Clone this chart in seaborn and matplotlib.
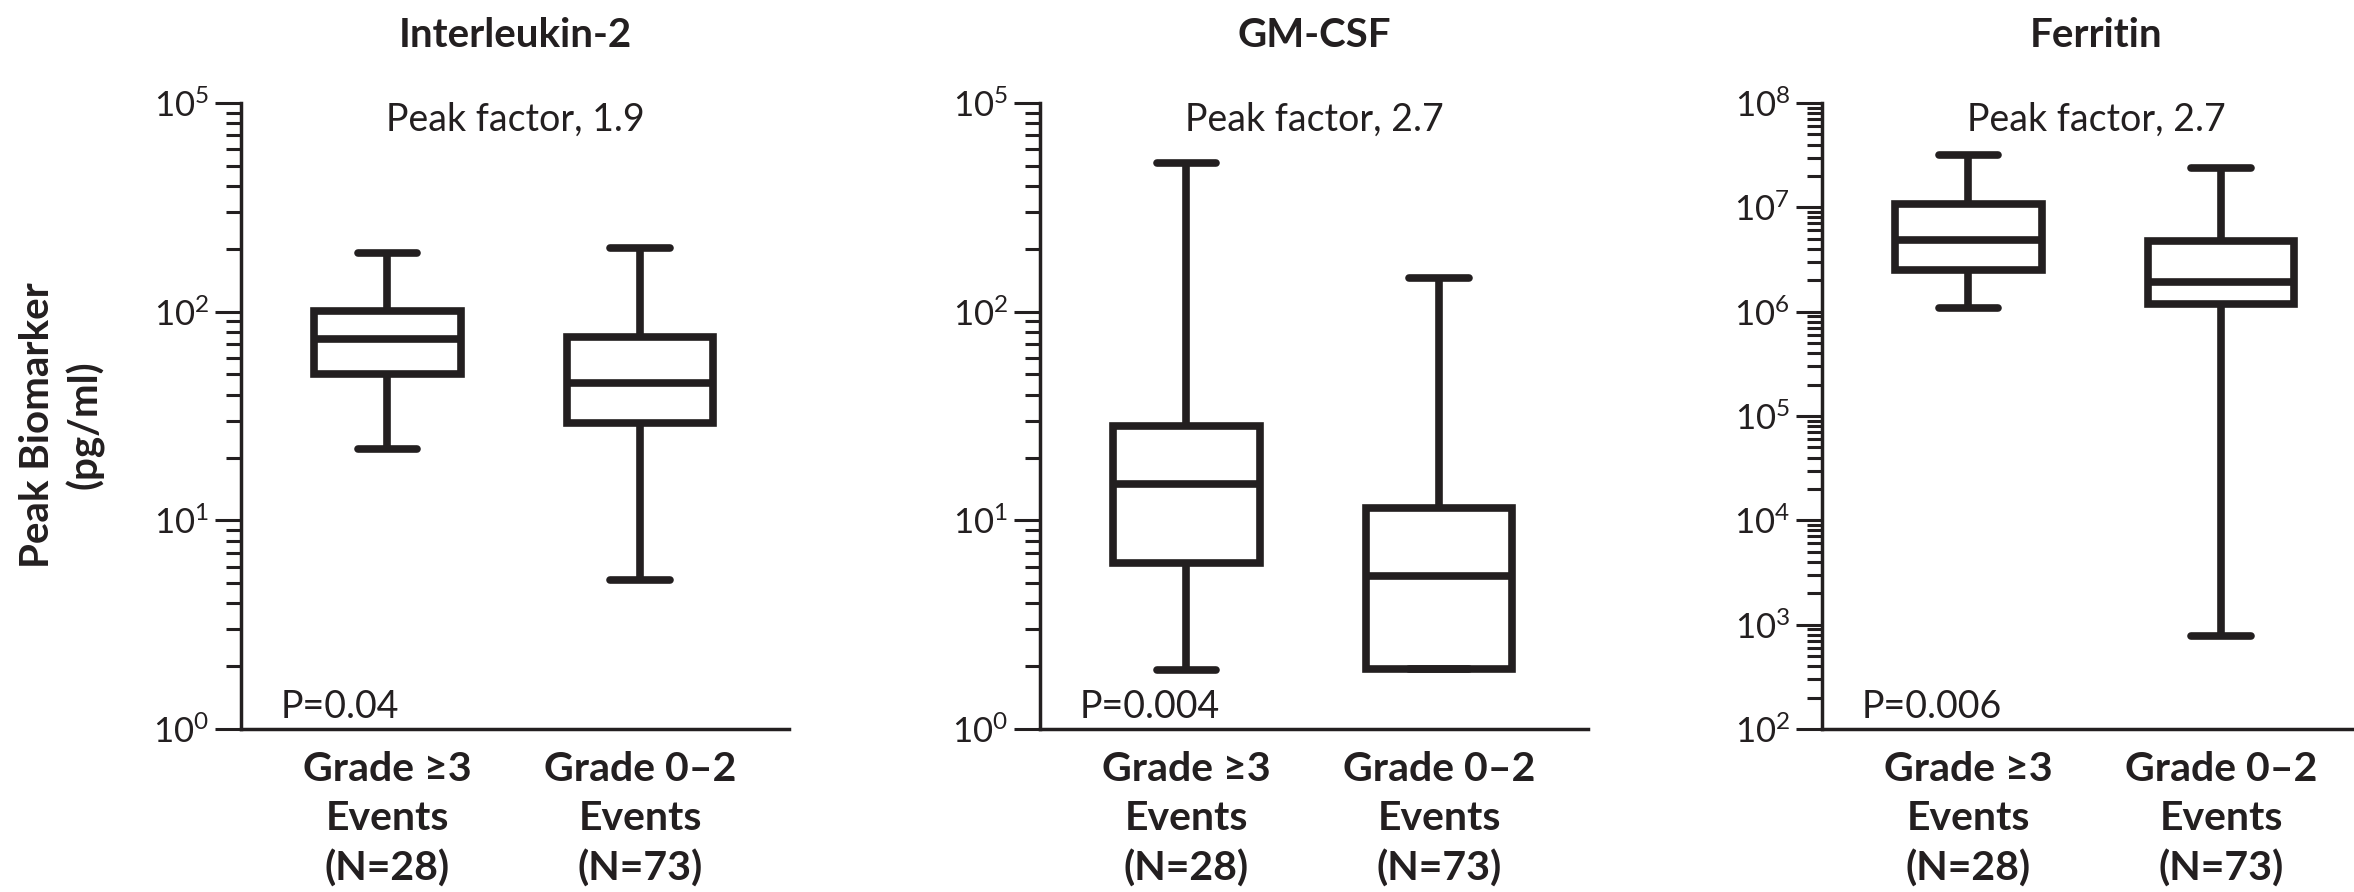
import numpy as np
import pandas as pd
import matplotlib
matplotlib.use("Agg")
import matplotlib.pyplot as plt
import matplotlib.ticker as mticker
import seaborn as sns

sns.set_style("white")
plt.rcParams["font.family"] = ["Lato", "DejaVu Sans"]
plt.rcParams["mathtext.fontset"] = "custom"
plt.rcParams["mathtext.rm"] = "Lato"

INK = "#231f20"

# ---- data: five-number summaries (min, q1, median, q3, max) ----
groups = ["Grade \u22653\nEvents\n(N=28)", "Grade 0\u20132\nEvents\n(N=73)"]

il2_high = [21.9, 50, 74, 101, 192]
il2_low = [5.2, 29.3, 45.7, 76, 202]
gmcsf_high = [1.91, 6.25, 14.9, 28.4, 517]
gmcsf_low = [1.93, 1.93, 5.43, 11.4, 145]
ferritin_high = [1.08e6, 2.49e6, 4.88e6, 1.08e7, 3.14e7]
ferritin_low = [777, 1.18e6, 1.94e6, 4.78e6, 2.38e7]

titles = ["Interleukin-2", "GM-CSF", "Ferritin"]
peak_text = ["Peak factor, 1.9", "Peak factor, 2.7", "Peak factor, 2.7"]
p_text = ["P=0.04", "P=0.004", "P=0.006"]

# y axis: tick positions and the exponents printed next to them
ylims = [(1, 1e3), (1, 1e3), (1e2, 1e8)]
tick_pos = [[1, 10, 100, 1000], [1, 10, 100, 1000],
            [1e2, 1e3, 1e4, 1e5, 1e6, 1e7, 1e8]]
tick_exp = [["0", "1", "2", "5"], ["0", "1", "2", "5"],
            ["2", "3", "4", "5", "6", "7", "8"]]

panels = [(il2_high, il2_low), (gmcsf_high, gmcsf_low), (ferritin_high, ferritin_low)]

# ---- layout (pixels) ----
W, H = 2354, 892
fig = plt.figure(figsize=(W / 100, H / 100), dpi=100)
ax_left = [241, 1040, 1822]
ax_w = 548
ax_top, ax_bot = 103, 729

for i, (hi, lo) in enumerate(panels):
    ax = fig.add_axes([ax_left[i] / W, (H - ax_bot) / H, ax_w / W, (ax_bot - ax_top) / H])
    df = pd.DataFrame({"group": [groups[0]] * len(hi) + [groups[1]] * len(lo),
                       "value": hi + lo})
    sns.boxplot(data=df, x="group", y="value", order=groups, ax=ax,
                log_scale=(False, True), whis=(0, 100), width=0.58,
                color="white", linecolor=INK, linewidth=5.5, saturation=1,
                capwidths=0.235)

    ax.set_xlim(-0.58, 1.59)
    ax.set_ylim(*ylims[i])
    ax.set_xlabel("")
    ax.set_ylabel("")

    ax.yaxis.set_major_locator(mticker.FixedLocator(tick_pos[i]))
    ax.yaxis.set_major_formatter(mticker.FixedFormatter(
        [r"$\mathregular{10^{%s}}$" % e for e in tick_exp[i]]))
    ax.yaxis.set_minor_locator(mticker.LogLocator(base=10, subs=np.arange(2, 10), numticks=20))
    ax.yaxis.set_minor_formatter(mticker.NullFormatter())
    ax.tick_params(axis="y", which="major", left=True, length=19, width=2.2,
                   color=INK, labelsize=25, labelcolor=INK, pad=4)
    ax.tick_params(axis="y", which="minor", left=True, length=11, width=2.2, color=INK)
    ax.tick_params(axis="x", length=0, labelsize=29.5, labelcolor=INK, pad=16)
    for lab in ax.get_xticklabels():
        lab.set_fontweight("bold")
        lab.set_linespacing(1.4)

    sns.despine(ax=ax)
    for s in ["left", "bottom"]:
        ax.spines[s].set_linewidth(2.5)
        ax.spines[s].set_color(INK)

    ax.text(0.5, 1 + 56 / 626, titles[i], transform=ax.transAxes, ha="center",
            va="baseline", fontsize=29, fontweight="bold", color=INK)
    ax.text(0.5, 598 / 626, peak_text[i], transform=ax.transAxes, ha="center",
            va="baseline", fontsize=27, color=INK)
    ax.text(0.073, 11 / 626, p_text[i], transform=ax.transAxes, ha="left",
            va="baseline", fontsize=27, color=INK)

fig.text(62 / W, 1 - 425 / H, "Peak Biomarker\n(pg/ml)", rotation=90, ha="center",
         va="center", fontsize=29, fontweight="bold", color=INK, linespacing=1.3)

fig.savefig("out.png", dpi=100)
